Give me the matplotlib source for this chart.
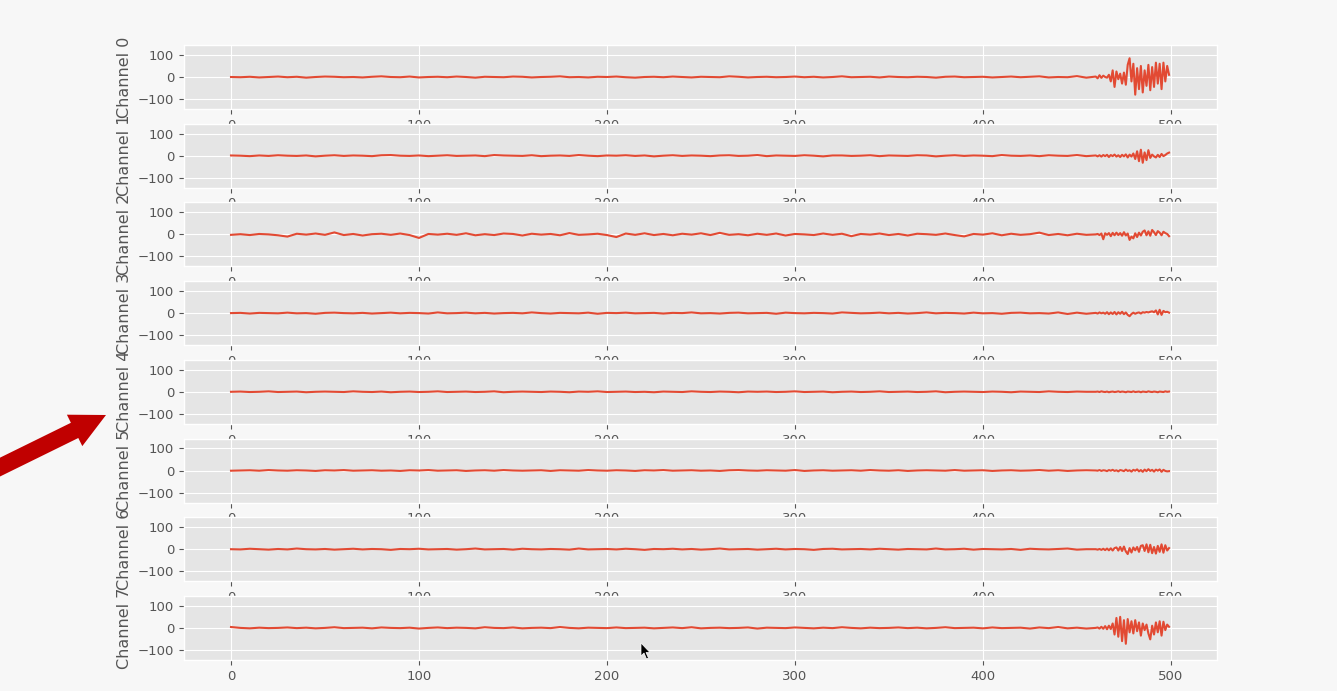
import numpy as np
import matplotlib
matplotlib.use("Agg")
import matplotlib.pyplot as plt
from matplotlib.patches import Polygon

plt.style.use("ggplot")

channel_names = ["Channel 0", "Channel 1", "Channel 2", "Channel 3",
                 "Channel 4", "Channel 5", "Channel 6", "Channel 7"]
x_ticks = [0, 100, 200, 300, 400, 500]
y_ticks = [-100, 0, 100]

# sample positions: every 5 samples in the quiet part, every sample in the burst
x_quiet = np.arange(0, 460, 5)
x_burst = np.arange(460, 500)

ch0_quiet = [0, -1, 1, -2, 0, 2, -1, 1, -3, 0, 2, 1, -1, 0, -2, 1, 3, 0, -1, 2, -2, 0, 1,
             -1, 2, 0, -3, 1, 0, -1, 2, 1, -2, 0, 1, 3, -1, 0, -2, 1, 0, 2, -1, -3, 0, 1,
             -1, 2, 0, -2, 1, 0, -1, 3, 1, -2, 0, 1, -1, 0, 2, -1, 1, -2, 0, 3, -1, 0, 1,
             -2, 2, 0, -1, 1, 0, -3, 1, 2, -1, 0, 1, -2, 0, 2, -1, 1, 3, -2, 0, -1, 4, -3]
ch1_quiet = [1, 0, -2, 1, -1, 2, 0, -1, 1, -3, 0, 2, -1, 1, 0, -2, 2, 3, 0, -1, 1, -2, 0,
             2, -1, 0, 1, -2, 3, 1, 0, -1, 2, -2, 0, 1, -1, 3, 0, -2, 1, 0, 2, -1, 1, -3,
             0, 2, -1, 1, 0, -2, 1, 2, -1, 0, 3, -2, 1, 0, -1, 2, 0, -3, 1, 1, -1, 0, 2,
             -2, 1, 0, -1, 2, 1, -3, 0, 2, -1, 1, 0, -2, 3, 0, -1, 1, -2, 2, 0, -1, 3, -2]
ch2_quiet = [-2, 1, -3, 2, 0, -4, -10, 3, -1, 4, -2, 9, -3, 2, -5, 1, 3, -2, 4, -3, -16, 2, -1,
             3, -2, 5, -4, 1, -3, 4, 2, -5, 3, -1, 2, -4, 6, -2, 0, 3, -3, -12, 4, -2, 5, -3,
             2, -4, 3, -1, 5, -3, 7, -2, 1, -4, 3, -2, 4, -5, 2, 0, -3, 4, -2, 3, -8, 2, -1,
             4, -3, 2, -5, 3, 1, -2, 4, -3, -9, 2, -1, 5, -4, 3, -2, 1, 8, -3, 2, -4, 3, -2]
ch3_quiet = [0, 1, -2, 1, 0, -1, 2, -1, 0, -3, 1, 2, 0, -1, 1, -2, 0, 2, -1, 1, 0, -2, 3,
             -1, 0, 2, -1, 1, -2, 0, 1, -1, 3, 0, -2, 1, 0, -1, 2, -3, 1, 0, 2, -1, 0, 1,
             -2, 1, 0, 3, -1, 0, -2, 1, 2, -1, 0, 1, -3, 2, 0, -1, 1, 0, -2, 3, 1, -1, 0,
             2, -1, 1, -2, 0, 3, -1, 1, 0, -2, 2, -1, 0, -3, 1, 2, -1, 0, -2, 3, -4, 2, -3]
ch4_quiet = [0, 1, -1, 0, 2, -1, 0, 1, -2, 0, 1, 0, -1, 2, 0, -1, 1, -2, 0, 1, -1, 0, 2,
             -1, 0, 1, -1, 0, 2, -2, 0, 1, 0, -1, 1, 0, -2, 1, 0, 2, -1, 0, 1, -1, 0, -2,
             1, 0, -1, 2, 0, -1, 1, 0, -2, 1, 0, 1, -1, 0, 2, -1, 0, 1, -2, 0, 1, -1, 0,
             2, -1, 0, 1, -1, 0, 2, -2, 0, 1, 0, -1, 1, 0, -2, 1, 0, -1, 2, 0, -1, 1, 0]
ch5_quiet = [-1, 0, 1, -1, 2, 0, -1, 1, 0, -2, 1, 0, 2, -1, 0, 1, -1, 0, -2, 1, 0, 2, -1,
             0, 1, -2, 0, 1, -1, 2, 0, -1, 0, 1, -2, 1, 0, -1, 2, 0, -1, 1, 0, -2, 1, 0,
             2, -1, 0, 1, -1, 0, -2, 1, 2, 0, -1, 1, 0, -1, 2, -2, 0, 1, -1, 0, 1, -1, 2,
             0, -1, 1, -2, 0, 1, 0, -1, 2, -1, 0, 1, -2, 0, 1, -1, 0, 2, -1, 1, -2, 0, 1]
ch6_quiet = [0, -1, 2, 0, -2, 1, -1, 3, 0, -1, 1, -2, 0, 2, -1, 1, 0, -3, 1, 0, 2, -1, 0,
             1, -2, 0, 3, -1, 0, 1, -2, 2, 0, -1, 1, 0, -2, 3, -1, 0, 1, -1, 2, 0, -3, 1,
             0, 2, -1, 1, -2, 0, 3, -1, 0, 1, -2, 0, 2, -1, 1, 0, -3, 1, 2, -1, 0, 1, -1,
             2, 0, -2, 1, 0, -1, 3, -1, 0, 2, -2, 1, 0, -1, 1, -3, 2, 0, -1, 1, 3, -2, 0]
ch7_quiet = [4, 0, -2, 1, -1, 0, 2, -1, 1, -2, 0, 3, -1, 0, 1, -2, 2, 0, -1, 1, -3, 0, 2,
             -1, 1, 0, -2, 3, 0, -1, 2, -2, 0, 1, -1, 4, 0, -2, 1, 0, -1, 2, -1, 0, 1, -2,
             0, 2, -1, 3, -2, 0, 1, -1, 0, 2, -3, 1, 0, -1, 2, 0, -2, 1, -1, 3, 0, -2, 1,
             -1, 0, 2, -1, 1, -2, 0, 3, -1, 0, 1, -2, 2, -1, 0, 1, -3, 2, -1, 4, -2, 1, -3]

ch0_burst = [2, -6, 8, -4, 6, 0, -3, 10, -20, 30, -45, 25, -10, 15, -30, 20, -35, 55, 85, -20,
             60, -80, 40, -55, 50, -70, 30, -40, 55, -60, 45, -45, 65, -30, 60, -55, 65, -20, 50, 10]
ch1_burst = [1, -3, 2, -4, 3, -2, 4, -6, 3, -2, 5, -4, 2, -6, 4, -3, 6, -8, 5, -4,
             10, -15, 20, -25, 27, -32, 15, -20, 25, -10, 5, -3, -8, 4, -6, 8, -2, 3, 10, 14]
ch2_burst = [0, 2, -3, 4, -22, 5, -2, 6, -8, 7, -4, 8, -3, 6, -6, 10, -5, 4, -25, -10,
             -18, 5, -12, 8, -5, 12, 18, -4, 14, -6, 20, 10, -3, 15, 8, -4, 12, 6, 2, -8]
ch3_burst = [1, -2, 3, -1, 2, -3, 4, -5, 3, -4, 5, -6, 4, -3, 6, -5, 3, -8, -14, -4,
             2, -3, 1, 3, -2, 4, 2, 5, 3, 6, 8, 4, 12, -6, 15, -8, 10, 4, 6, 2]
ch4_burst = [0, 1, -1, 2, 0, -1, 1, -2, 0, 1, -1, 0, 2, -1, 1, 0, -2, 1, 0, -1,
             2, -1, 0, 1, -2, 1, 0, -1, 2, 0, -1, 1, 0, -2, 1, 0, -1, 2, 0, 1]
ch5_burst = [0, -1, 2, -2, 1, 0, -3, 2, -1, 3, -2, 1, -4, 2, 0, -3, 4, -2, 1, -5,
             3, -1, 5, -4, 2, -6, 4, -3, 6, -2, 3, -5, 4, -1, 5, -6, 3, -2, -4, -3]
ch6_burst = [0, -2, 1, -3, 2, -4, 3, -5, 4, -6, 5, 8, -6, 10, -8, 12, -10, -22, 5, -15,
             8, -5, 10, -12, 15, 18, -8, 22, -14, 20, -18, 10, -20, 15, -12, 22, -16, 18, -6, 5]
ch7_burst = [0, 2, -3, 5, -4, 8, -6, 10, -5, 20, -30, 45, -40, 50, -60, 35, -72, 40, -20, 30,
             -25, 35, -15, 25, -35, 20, -10, 15, -25, -52, 10, -30, 25, -20, 30, -35, 28, -10, 15, 5]

quiet_parts = [ch0_quiet, ch1_quiet, ch2_quiet, ch3_quiet,
               ch4_quiet, ch5_quiet, ch6_quiet, ch7_quiet]
burst_parts = [ch0_burst, ch1_burst, ch2_burst, ch3_burst,
               ch4_burst, ch5_burst, ch6_burst, ch7_burst]

W, H = 1337, 691
fig = plt.figure(figsize=(W / 100, H / 100), dpi=100)
fig.patch.set_facecolor("#f7f7f7")

left_px, right_px = 184, 1217
top0_px, step_px, height_px = 45, 78.7, 64

for k, name in enumerate(channel_names):
    top = top0_px + k * step_px
    ax = fig.add_axes([left_px / W, 1 - (top + height_px) / H,
                       (right_px - left_px) / W, height_px / H])
    xs = np.concatenate([x_quiet[:len(quiet_parts[k])], x_burst[:len(burst_parts[k])]])
    ys = np.concatenate([quiet_parts[k], burst_parts[k]])
    ax.plot(xs, ys, color="#E24A33", lw=1.5)
    ax.set_xlim(-25, 524.5)
    ax.set_ylim(-145, 145)
    ax.set_xticks(x_ticks)
    ax.set_yticks(y_ticks)
    ax.tick_params(labelsize=9.5, colors="#555555")
    ax.set_ylabel(name, fontsize=11.5, color="#555555", labelpad=4)

# red annotation arrow (image pixel coordinates -> figure fraction)
arrow_px = [(-32.4, 473.6), (70.9, 422.8), (66.9, 414.7), (106, 415),
            (82.3, 446.1), (78.3, 438.0), (-25, 488.8)]
fig.add_artist(Polygon([(x / W, 1 - y / H) for x, y in arrow_px], closed=True,
                       transform=fig.transFigure, facecolor="#c00000",
                       edgecolor="none", zorder=10))

# mouse cursor
cursor_px = [(641, 643), (641, 656), (644, 653), (646.5, 659), (648.5, 658),
             (646, 652.5), (650, 652.5)]
fig.add_artist(Polygon([(x / W, 1 - y / H) for x, y in cursor_px], closed=True,
                       transform=fig.transFigure, facecolor="black",
                       edgecolor="white", lw=0.5, zorder=10))

fig.savefig("out.png", dpi=100, facecolor=fig.get_facecolor())
